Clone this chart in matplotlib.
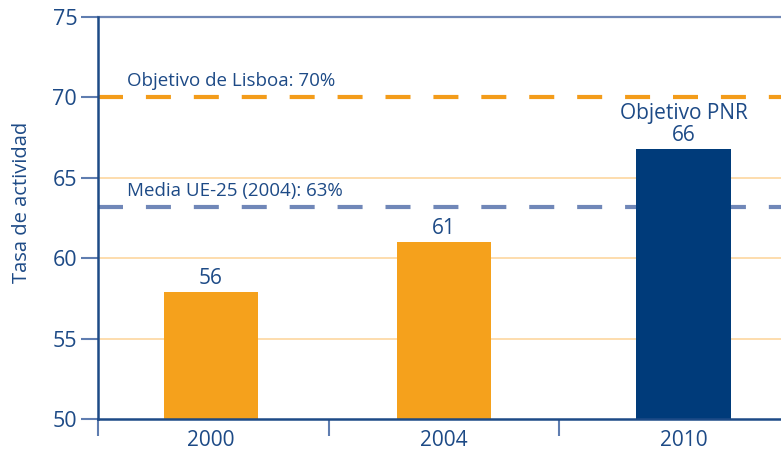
import numpy as np
import matplotlib
matplotlib.use("Agg")
import matplotlib.pyplot as plt

# data
years = ["2000", "2004", "2010"]
bar_heights = [57.9, 61.0, 66.8]
bar_labels = ["56", "61", "Objetivo PNR\n66"]
bar_colors = ["#f5a11c", "#f5a11c", "#003b7a"]
lisboa = 70.0
ue25 = 63.2
lisboa_text = "Objetivo de Lisboa: 70%"
ue25_text = "Media UE-25 (2004): 63%"
yticks = [50, 55, 60, 65, 70, 75]

txtCol = "#1d4a86"
plt.rcParams['font.family'] = ['Open Sans', 'DejaVu Sans']

fig = plt.figure(figsize=(7.81, 4.55), dpi=100)
ax = fig.add_axes([0.1255, 0.079, 0.8745, 0.8836])

#bar positions (last bar sits a bit to the right in the original)
xpos = [-0.01, 1.0, 2.04]

#light grid lines
for v in [55, 60, 65]:
	ax.axhline(v, color="#fdd7a0", lw=1.2, zorder=0)
ax.axhline(75, color="#6f87b5", lw=1.6, zorder=1, clip_on=False)

#reference lines
ax.axhline(lisboa, color="#f39c1a", lw=3, dashes=(6, 5.5), zorder=1)
ax.axhline(ue25, color="#7087b8", lw=3, dashes=(6, 5.5), zorder=1)
ax.text(-0.375, lisboa + 0.45, lisboa_text, color=txtCol, fontsize=13.5, va="bottom")
ax.text(-0.375, ue25 + 0.4, ue25_text, color=txtCol, fontsize=13.5, va="bottom")

bars = ax.bar(xpos, bar_heights, width=0.41, color=bar_colors, zorder=2)
for b, lab in zip(bars, bar_labels):
	ax.annotate(lab, (b.get_x() + b.get_width() / 2, b.get_height()), xytext=(0, 2),
		textcoords="offset points", ha="center", va="bottom", color=txtCol,
		fontsize=15, linespacing=1.05)

ax.set_ylim(50, 75)
ax.set_xlim(-0.5, 2.463)
ax.set_yticks(yticks)
ax.set_xticks(xpos)
ax.set_xticklabels(years)
ax.set_xticks([-0.5, 0.5, 1.5], minor=True)
ax.tick_params(axis="x", which="major", length=0, pad=8, labelsize=15, labelcolor=txtCol)
ax.tick_params(axis="x", which="minor", length=12, width=1.5, color="#5f7db0", direction="out")
ax.tick_params(axis="y", length=12, width=1.5, color="#5f7db0", labelsize=15.5, labelcolor=txtCol, pad=3)

for s in ["top", "right"]:
	ax.spines[s].set_visible(False)
ax.spines["left"].set_color("#1d4a86")
ax.spines["left"].set_linewidth(1.8)
ax.spines["bottom"].set_color("#1d4a86")
ax.spines["bottom"].set_linewidth(1.8)

ax.set_ylabel("Tasa de actividad", color=txtCol, fontsize=14.5)
ax.yaxis.set_label_coords(-0.097, 0.54)

fig.savefig("out.png", dpi=100)
